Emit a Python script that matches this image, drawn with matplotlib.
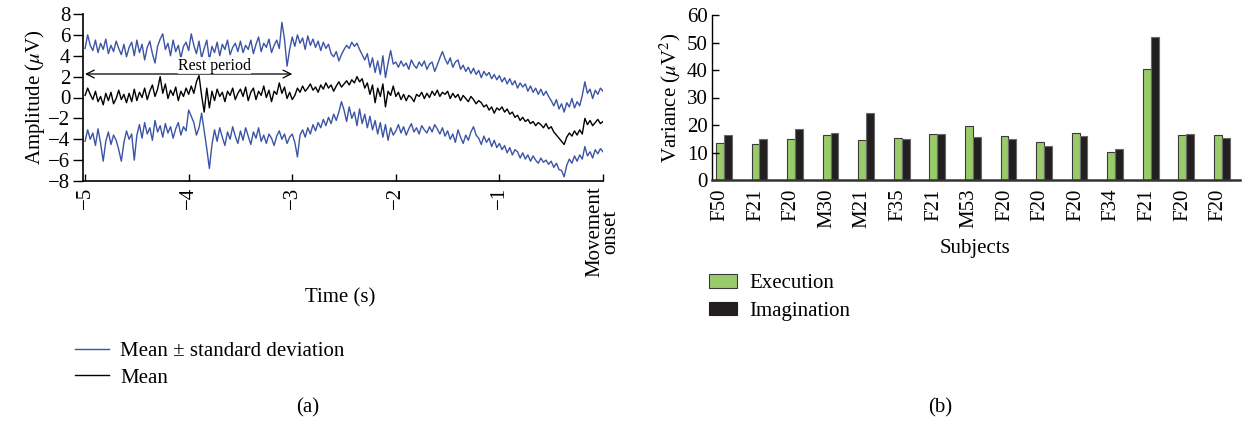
import numpy as np
import matplotlib
matplotlib.use("Agg")
import matplotlib.pyplot as plt
from matplotlib.patches import Patch
from matplotlib.lines import Line2D

plt.rcParams["font.family"] = ["Liberation Serif", "DejaVu Serif"]
plt.rcParams["mathtext.fontset"] = "stix"

# ---- panel (a): averaged EEG around movement onset, 0.025 s steps from -5 s to 0 s
t_start, t_step = -5.0, 0.025

mean_uv = [
    0.2, 0.9, 0.3, -0.2, 0.6, -0.4, 0.1, -0.7, 0.4, -0.3, 0.5, -0.6, -0.1, 0.7, -0.2, 0.3, -0.5, 0.4, -0.4, 0.8,
    -0.3, 0.5, 0.0, 0.9, -0.2, 0.6, 1.2, 0.1, 0.8, 2.0, 0.4, 1.3, -0.1, 0.7, 0.2, 1.0, -0.3, 0.6, 0.1, 0.9,
    0.3, 1.1, 0.4, 1.5, 2.1, 0.2, -1.4, 0.9, -1.0, 0.6, -0.3, 0.8, 0.1, 0.5, -0.4, 0.6, 0.2, 0.9, -0.2, 0.4,
    0.8, 0.1, 1.0, -0.3, 0.5, 0.9, -0.2, 0.6, 0.2, 1.1, 0.0, 0.7, -0.4, 0.6, 0.3, 1.4, 0.4, 1.0, -0.1, 0.5,
    -0.2, 0.2, 0.9, 0.5, 1.1, 0.6, 0.9, 1.3, 0.7, 1.0, 0.5, 1.2, 0.8, 1.4, 0.9, 1.2, 0.6, 1.1, 1.5, 1.0,
    1.3, 1.6, 1.2, 1.7, 1.4, 2.0, 1.5, 1.8, 0.9, 1.4, 0.3, 1.2, -0.5, 0.9, 0.1, 1.3, -0.9, 0.6, 0.2, 1.1,
    0.1, 0.5, -0.2, 0.3, -0.3, 0.2, 0.0, -0.4, 0.3, 0.1, 0.5, -0.1, 0.4, 0.0, 0.6, 0.2, 0.7, 0.1, 0.5, 0.3,
    0.6, -0.1, 0.4, 0.0, 0.3, -0.3, 0.2, -0.1, -0.4, 0.1, -0.2, -0.6, -0.3, -0.5, -0.9, -0.7, -1.2, -0.9, -1.5, -1.0,
    -1.2, -0.9, -1.4, -1.1, -1.6, -1.4, -1.9, -1.7, -2.2, -1.9, -2.3, -2.1, -2.5, -2.3, -2.7, -2.4, -2.6, -2.9, -2.5, -3.0,
    -2.8, -3.3, -3.6, -3.9, -4.2, -4.5, -3.8, -3.4, -3.7, -3.2, -3.6, -3.1, -3.5, -2.0, -2.6, -2.2, -2.7, -2.4, -2.1, -2.5,
    -2.3,
]

upper_uv = [
    4.7, 6.0, 5.0, 4.5, 5.5, 4.3, 5.2, 4.6, 5.6, 4.2, 5.0, 4.4, 5.4, 4.7, 4.1, 5.1, 3.9, 4.8, 5.3, 4.0,
    5.5, 4.3, 5.1, 3.6, 4.8, 5.4, 4.2, 3.3, 4.9, 5.6, 6.1, 4.6, 5.2, 4.0, 5.5, 4.4, 5.0, 3.8, 4.9, 5.3,
    4.5, 6.1, 5.0, 4.2, 5.4, 3.8, 4.7, 5.5, 3.6, 4.9, 4.3, 5.3, 4.0, 5.1, 4.6, 5.5, 4.1, 4.8, 5.2, 4.4,
    5.4, 4.3, 5.0, 4.6, 5.5, 4.2, 5.1, 5.8, 4.4, 5.2, 4.8, 5.6, 4.3, 5.0, 5.5, 4.7, 7.2, 5.6, 3.0, 4.6,
    5.8, 4.9, 6.0, 5.2, 5.7, 4.6, 5.9, 5.0, 5.6, 4.8, 5.4, 4.5, 5.3, 4.7, 5.1, 4.2, 3.9, 4.4, 3.5, 4.1,
    4.6, 5.0, 4.7, 5.3, 4.9, 5.2, 4.6, 4.1, 3.6, 4.2, 2.9, 3.8, 2.4, 3.5, 2.2, 4.0, 1.9, 3.3, 4.5, 3.2,
    3.4, 2.9, 3.5, 3.0, 3.3, 2.7, 3.6, 3.1, 2.8, 3.4, 3.0, 3.5, 2.7, 3.2, 3.4, 2.5, 3.1, 3.8, 4.4, 3.7,
    3.2, 3.8, 2.9, 3.4, 3.6, 2.7, 3.1, 2.5, 2.9, 2.3, 2.8, 2.2, 2.6, 1.9, 2.5, 2.1, 2.4, 1.8, 2.2, 1.7,
    2.1, 1.5, 1.9, 1.3, 1.8, 1.2, 1.6, 0.9, 1.4, 1.0, 1.3, 0.6, 1.1, 0.5, 0.9, 0.3, 0.8, 0.2, 0.6, 0.1,
    -0.3, -0.8, -0.2, -1.1, -0.6, -1.4, -0.5, -0.9, -0.1, -1.0, -0.4, -0.8, 0.2, 1.5, 0.4, 0.8, -0.1, 0.7, 0.3, 0.9,
    0.6,
]

lower_uv = [
    -4.2, -3.1, -4.0, -3.4, -4.6, -3.0, -4.4, -6.1, -4.2, -3.3, -4.5, -3.6, -4.1, -5.0, -6.1, -4.3, -3.2, -4.0, -3.5, -6.0,
    -3.6, -2.6, -3.9, -2.4, -3.5, -2.9, -4.1, -2.2, -3.3, -2.7, -3.8, -2.5, -3.4, -2.8, -3.9, -3.0, -2.4, -3.6, -2.8, -3.2,
    -1.2, -1.8, -2.4, -3.6, -2.9, -1.5, -3.2, -4.9, -6.8, -4.5, -3.1, -4.2, -2.9, -3.8, -4.6, -3.3, -4.0, -2.8, -3.7, -4.4,
    -3.2, -4.1, -2.9, -3.7, -4.5, -3.3, -3.9, -2.9, -4.2, -3.6, -4.4, -3.5, -3.9, -4.6, -3.7, -3.2, -4.0, -3.5, -4.4, -3.8,
    -3.5, -4.3, -5.7, -3.6, -3.1, -3.8, -2.9, -3.5, -2.6, -3.2, -2.4, -2.9, -2.1, -2.7, -1.9, -2.5, -1.6, -2.2, -1.4, -0.4,
    -1.2, -2.3, -0.9, -2.0, -1.4, -2.7, -1.1, -2.5, -1.6, -2.9, -1.8, -3.1, -2.2, -3.5, -2.4, -3.8, -2.6, -4.1, -2.9, -3.6,
    -3.2, -2.6, -3.4, -2.8, -3.6, -3.0, -2.5, -3.3, -2.9, -3.5, -2.7, -3.1, -3.4, -2.8, -3.3, -2.6, -3.0, -3.5, -2.9, -3.7,
    -3.2, -4.0, -3.5, -4.3, -3.1, -3.8, -4.4, -3.6, -4.1, -3.3, -2.8, -3.6, -3.9, -4.5, -3.7, -4.3, -3.9, -4.7, -4.1, -4.8,
    -4.4, -5.0, -4.6, -5.3, -4.8, -5.5, -5.0, -5.2, -5.8, -5.3, -5.9, -5.5, -6.1, -5.6, -6.0, -6.3, -5.8, -6.2, -6.0, -6.4,
    -6.1, -6.7, -6.3, -6.9, -7.0, -7.6, -6.5, -5.9, -6.3, -5.6, -6.1, -5.5, -5.9, -4.7, -5.6, -5.2, -5.8, -5.0, -5.4, -4.9,
    -5.2,
]

time_ticks = [-5, -4, -3, -2, -1, 0]
time_ticklabels = ["\u22125", "\u22124", "\u22123", "\u22122", "\u22121", "Movement\nonset"]

# ---- panel (b): variance per subject
subjects = ["F50", "F21", "F20", "M30", "M21", "F35", "F21", "M53",
            "F20", "F20", "F20", "F34", "F21", "F20", "F20"]
execution = [13.6, 13.0, 14.8, 16.5, 14.4, 15.3, 16.6, 19.6,
             15.9, 13.8, 17.0, 10.2, 40.2, 16.4, 16.4]
imagination = [16.4, 14.9, 18.5, 17.0, 24.5, 15.0, 16.6, 15.5,
               15.0, 12.4, 16.1, 11.4, 52.1, 16.7, 15.3]

blue = "#3b54a5"
green = "#9acb6b"
dark = "#231f20"
fs = 15

W, H = 1242, 426
fig = plt.figure(figsize=(W / 100, H / 100), dpi=100)


def frac(x0, y0, x1, y1):
    return [x0 / W, 1 - y1 / H, (x1 - x0) / W, (y1 - y0) / H]


# ---------- (a)
ax = fig.add_axes(frac(83, 14, 603, 181))
t = t_start + t_step * np.arange(len(mean_uv))
ax.plot(t, upper_uv, color=blue, lw=1.0)
ax.plot(t, lower_uv, color=blue, lw=1.0)
ax.plot(t, mean_uv, color="black", lw=1.0)

ax.set_xlim(-5.02, 0)
ax.set_ylim(-8, 8)
ax.set_yticks(range(-8, 9, 2))
ax.set_xticks(time_ticks)
ax.set_xticklabels(time_ticklabels, rotation=90, va="top", ha="center",
                   linespacing=0.8)
ax.tick_params(axis="y", direction="out", length=7, width=1, labelsize=fs, pad=2)
ax.tick_params(axis="x", direction="in", length=5, width=1, labelsize=fs, pad=4)
for s in ["top", "right"]:
    ax.spines[s].set_visible(False)
for s in ["left", "bottom"]:
    ax.spines[s].set_linewidth(1.2)
ax.set_ylabel(r"Amplitude ($\mu$V)", fontsize=fs, labelpad=1)

ax.annotate("", xy=(-5.0, 2.25), xytext=(-3.0, 2.25),
            arrowprops=dict(arrowstyle="<->", lw=0.9, color="black",
                            mutation_scale=14, shrinkA=0, shrinkB=0))
ax.text(-3.75, 3.05, "Rest period", ha="center", va="center", fontsize=11.5,
        bbox=dict(facecolor="white", edgecolor="none", pad=0.2, alpha=0.8))

fig.text(340 / W, 1 - 298 / H, "Time (s)", ha="center", va="center", fontsize=fs)
fig.legend(handles=[Line2D([], [], color=blue, lw=1.0),
                    Line2D([], [], color="black", lw=1.0)],
           labels=["Mean \u00b1 standard deviation", "Mean"],
           loc="upper left", bbox_to_anchor=(67 / W, 1 - 333 / H),
           frameon=False, fontsize=fs, handlelength=1.6, handletextpad=0.55,
           labelspacing=0.35, borderaxespad=0)
fig.text(308 / W, 1 - 408 / H, "(a)", ha="center", va="center", fontsize=fs)

# ---------- (b)
bx = fig.add_axes(frac(712, 15, 1240, 180))
x = np.arange(len(subjects))
w = 0.22
bx.bar(x, execution, width=w, color=green, edgecolor="#3a3a3a", lw=0.8)
bx.bar(x + w, imagination, width=w, color=dark, edgecolor="#6a6a6a", lw=0.8)
bx.set_xlim(-0.225, 14.62)
bx.set_ylim(0, 60)
bx.set_yticks(range(0, 61, 10))
bx.set_xticks(x)
bx.set_xticklabels(subjects, rotation=90)
bx.tick_params(axis="x", length=0, labelsize=fs, pad=6)
bx.tick_params(axis="y", direction="in", length=5, width=1, labelsize=fs, pad=3)
for s in ["top", "right"]:
    bx.spines[s].set_visible(False)
bx.spines["left"].set_linewidth(1.0)
bx.spines["bottom"].set_linewidth(1.8)
bx.spines["bottom"].set_color("#333333")
bx.set_ylabel(r"Variance ($\mu$V$^2$)", fontsize=fs, labelpad=3)

fig.text(975 / W, 1 - 248 / H, "Subjects", ha="center", va="center", fontsize=fs)
fig.legend(handles=[Patch(facecolor=green, edgecolor="#3a3a3a", lw=0.8),
                    Patch(facecolor=dark, edgecolor=dark, lw=0.8)],
           labels=["Execution", "Imagination"],
           loc="upper left", bbox_to_anchor=(701 / W, 1 - 266 / H),
           frameon=False, fontsize=fs, handlelength=1.35, handleheight=0.6,
           handletextpad=0.55, labelspacing=0.4, borderaxespad=0)
fig.text(940 / W, 1 - 408 / H, "(b)", ha="center", va="center", fontsize=fs)

fig.savefig("out.png", dpi=100)
plt.close(fig)
